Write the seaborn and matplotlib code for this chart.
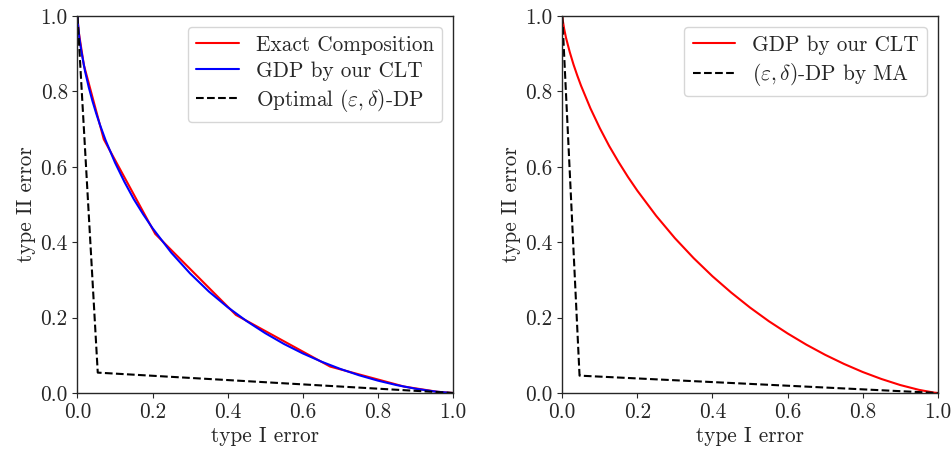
import numpy as np
import pandas as pd
import matplotlib
matplotlib.use("Agg")
import matplotlib.pyplot as plt
import seaborn as sns

# type I error grid
alpha = [0.0, 0.001, 0.005, 0.01, 0.02, 0.03, 0.04, 0.05, 0.06, 0.075, 0.1, 0.125,
         0.15, 0.175, 0.2, 0.25, 0.3, 0.35, 0.4, 0.45, 0.5, 0.55, 0.6, 0.65, 0.7,
         0.75, 0.8, 0.85, 0.9, 0.95, 0.99, 1.0]

# left panel: GDP by our CLT (blue)
gdp_left = [1.0, 0.982, 0.942, 0.908, 0.854, 0.811, 0.774, 0.741, 0.711, 0.670,
            0.611, 0.560, 0.514, 0.474, 0.437, 0.372, 0.317, 0.269, 0.2275, 0.191,
            0.1587, 0.130, 0.105, 0.083, 0.0638, 0.047, 0.0328, 0.0209, 0.0113,
            0.0041, 0.0004, 0.0]

# left panel: exact composition (red, piecewise linear)
exact_x = [0.0, 0.003, 0.017, 0.07, 0.207, 0.422, 0.673, 0.87, 0.96, 1.0]
exact_y = [1.0, 0.96, 0.87, 0.673, 0.422, 0.207, 0.07, 0.017, 0.003, 0.0]

# left panel: optimal (eps, delta)-DP
opt_x = [0.0, 0.054, 1.0]
opt_y = [1.0, 0.054, 0.0]

# right panel: GDP by our CLT (red)
gdp_right = [1.0, 0.990, 0.966, 0.942, 0.904, 0.871, 0.842, 0.815, 0.791, 0.755,
             0.7025, 0.655, 0.6126, 0.573, 0.5365, 0.470, 0.4106, 0.3576, 0.3096,
             0.2663, 0.2266, 0.1905, 0.158, 0.1282, 0.1013, 0.0772, 0.0557, 0.0371,
             0.0211, 0.0083, 0.0010, 0.0]

# right panel: (eps, delta)-DP by MA
ma_x = [0.0, 0.046, 1.0]
ma_y = [1.0, 0.046, 0.0]

sns.set_style("ticks")
plt.rcParams["font.family"] = "serif"
plt.rcParams["font.serif"] = ["cmr10"]
plt.rcParams["mathtext.fontset"] = "cm"
plt.rcParams["axes.formatter.use_mathtext"] = True
plt.rcParams["font.size"] = 15.3
plt.rcParams["axes.linewidth"] = 1.0

fig = plt.figure(figsize=(9.53, 4.54), dpi=100)
ax1 = fig.add_axes([0.0813, 0.1344, 0.394, 0.8304])
ax2 = fig.add_axes([0.590, 0.1344, 0.394, 0.8304])

sns.lineplot(x=exact_x, y=exact_y, ax=ax1, color="red", lw=1.5, sort=False,
             estimator=None, label="Exact Composition")
sns.lineplot(x=alpha, y=gdp_left, ax=ax1, color="blue", lw=1.5, sort=False,
             estimator=None, label="GDP by our CLT")
sns.lineplot(x=opt_x, y=opt_y, ax=ax1, color="black", lw=1.5, ls="--", sort=False,
             estimator=None, label=r"Optimal $(\varepsilon,\delta)$-DP")

sns.lineplot(x=alpha, y=gdp_right, ax=ax2, color="red", lw=1.5, sort=False,
             estimator=None, label="GDP by our CLT")
sns.lineplot(x=ma_x, y=ma_y, ax=ax2, color="black", lw=1.5, ls="--", sort=False,
             estimator=None, label=r"$(\varepsilon,\delta)$-DP by MA")

ticks = [0.0, 0.2, 0.4, 0.6, 0.8, 1.0]
for ax in (ax1, ax2):
    ax.set_xlim(0, 1)
    ax.set_ylim(0, 1)
    ax.set_xticks(ticks)
    ax.set_yticks(ticks)
    ax.set_xticklabels([f"{t:.1f}" for t in ticks])
    ax.set_yticklabels([f"{t:.1f}" for t in ticks])
    ax.set_xlabel("type I error", labelpad=3)
    ax.set_ylabel("type II error", labelpad=3)
    ax.legend(loc="upper right", fontsize=15.3, handlelength=2.0,
              labelspacing=0.3)

fig.savefig("out.png", dpi=100)
